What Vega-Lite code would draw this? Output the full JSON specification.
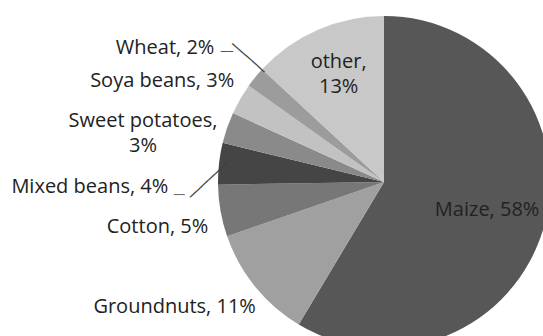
{
  "$schema": "https://vega.github.io/schema/vega-lite/v6.json",
  "autosize": "none",
  "width": 318,
  "height": 308,
  "padding": {"left": 225, "top": 28, "right": 0, "bottom": 0},
  "background": "white",
  "view": {"stroke": null},
  "data": {"values": [
    {"crop": "Maize", "value": 58, "label": "Maize, 58%", "order": 1},
    {"crop": "Groundnuts", "value": 11, "label": "Groundnuts, 11%", "order": 2},
    {"crop": "Cotton", "value": 5, "label": "Cotton, 5%", "order": 3},
    {"crop": "Mixed beans", "value": 4, "label": "Mixed beans, 4%", "order": 4},
    {"crop": "Sweet potatoes", "value": 3, "label": "Sweet potatoes,\n3%", "order": 5},
    {"crop": "Soya beans", "value": 3, "label": "Soya beans, 3%", "order": 6},
    {"crop": "Wheat", "value": 2, "label": "Wheat, 2%", "order": 7},
    {"crop": "other", "value": 13, "label": "other,\n13%", "order": 8}
  ]},
  "encoding": {
    "theta": {"field": "value", "type": "quantitative", "stack": true},
    "order": {"field": "order", "type": "quantitative", "sort": "ascending"}
  },
  "layer": [
    {
      "mark": {"type": "arc", "outerRadius": 166},
      "encoding": {
        "color": {
          "field": "crop", "type": "nominal", "legend": null,
          "scale": {
            "domain": ["Maize", "Groundnuts", "Cotton", "Mixed beans", "Sweet potatoes", "Soya beans", "Wheat", "other"],
            "range": ["#575757", "#a0a0a0", "#777777", "#454545", "#8a8a8a", "#c2c2c2", "#9c9c9c", "#c8c8c8"]
          }
        }
      }
    },
    {
      "mark": {"type": "text", "radius": 107, "dy": -1, "font": "Open Sans", "fontSize": 20, "fill": "#222222", "lineBreak": "\n", "lineHeight": 24},
      "encoding": {"detail": {"field": "crop"}, "text": {"condition": {"test": "datum.crop === 'Maize'", "field": "label", "type": "nominal"}, "value": ""}}
    },
    {
      "mark": {"type": "text", "radius": 118, "dx": 2, "dy": -12, "font": "Open Sans", "fontSize": 20, "fill": "#222222", "lineBreak": "\n", "lineHeight": 25},
      "encoding": {"detail": {"field": "crop"}, "text": {"condition": {"test": "datum.crop === 'other'", "field": "label", "type": "nominal"}, "value": ""}}
    },
    {
      "mark": {"type": "text", "radius": 244, "dx": -20, "dy": -29, "font": "Open Sans", "fontSize": 20, "fill": "#222222", "lineBreak": "\n", "lineHeight": 24},
      "encoding": {"detail": {"field": "crop"}, "text": {"condition": {"test": "datum.crop === 'Groundnuts'", "field": "label", "type": "nominal"}, "value": ""}}
    },
    {
      "mark": {"type": "text", "radius": 231, "dx": 1, "dy": 5, "font": "Open Sans", "fontSize": 20, "fill": "#222222", "lineBreak": "\n", "lineHeight": 24},
      "encoding": {"detail": {"field": "crop"}, "text": {"condition": {"test": "datum.crop === 'Cotton'", "field": "label", "type": "nominal"}, "value": ""}}
    },
    {
      "mark": {"type": "text", "radius": 296, "dy": 38, "font": "Open Sans", "fontSize": 20, "fill": "#222222", "lineBreak": "\n", "lineHeight": 24},
      "encoding": {"detail": {"field": "crop"}, "text": {"condition": {"test": "datum.crop === 'Mixed beans'", "field": "label", "type": "nominal"}, "value": ""}}
    },
    {
      "mark": {"type": "text", "radius": 254, "dx": -1, "dy": 22, "font": "Open Sans", "fontSize": 20, "fill": "#222222", "lineBreak": "\n", "lineHeight": 25},
      "encoding": {"detail": {"field": "crop"}, "text": {"condition": {"test": "datum.crop === 'Sweet potatoes'", "field": "label", "type": "nominal"}, "value": ""}}
    },
    {
      "mark": {"type": "text", "radius": 240, "dx": -14, "dy": 19, "font": "Open Sans", "fontSize": 20, "fill": "#222222", "lineBreak": "\n", "lineHeight": 24},
      "encoding": {"detail": {"field": "crop"}, "text": {"condition": {"test": "datum.crop === 'Soya beans'", "field": "label", "type": "nominal"}, "value": ""}}
    },
    {
      "mark": {"type": "text", "radius": 255, "dx": -21, "dy": 27, "font": "Open Sans", "fontSize": 20, "fill": "#222222", "lineBreak": "\n", "lineHeight": 24},
      "encoding": {"detail": {"field": "crop"}, "text": {"condition": {"test": "datum.crop === 'Wheat'", "field": "label", "type": "nominal"}, "value": ""}}
    },
    {
      "mark": {"type": "text", "radius": 183, "dx": -1, "dy": -10, "angle": 41.6, "font": "DejaVu Sans Mono", "fontSize": 14.3, "fill": "#404040"},
      "encoding": {"detail": {"field": "crop"}, "text": {"condition": {"test": "datum.crop === 'Wheat'", "value": "─────"}, "value": ""}}
    },
    {
      "mark": {"type": "text", "radius": 205, "dx": 2, "dy": -1, "font": "DejaVu Sans Mono", "fontSize": 10, "fill": "#404040"},
      "encoding": {"detail": {"field": "crop"}, "text": {"condition": {"test": "datum.crop === 'Wheat'", "value": "──"}, "value": ""}}
    },
    {
      "mark": {"type": "text", "radius": 185, "dx": -7, "dy": 20, "angle": -43.1, "font": "DejaVu Sans Mono", "fontSize": 13.8, "fill": "#404040"},
      "encoding": {"detail": {"field": "crop"}, "text": {"condition": {"test": "datum.crop === 'Mixed beans'", "value": "──────"}, "value": ""}}
    },
    {
      "mark": {"type": "text", "radius": 206, "dy": 36, "font": "DejaVu Sans Mono", "fontSize": 9, "fill": "#404040"},
      "encoding": {"detail": {"field": "crop"}, "text": {"condition": {"test": "datum.crop === 'Mixed beans'", "value": "──"}, "value": ""}}
    }
  ]
}
